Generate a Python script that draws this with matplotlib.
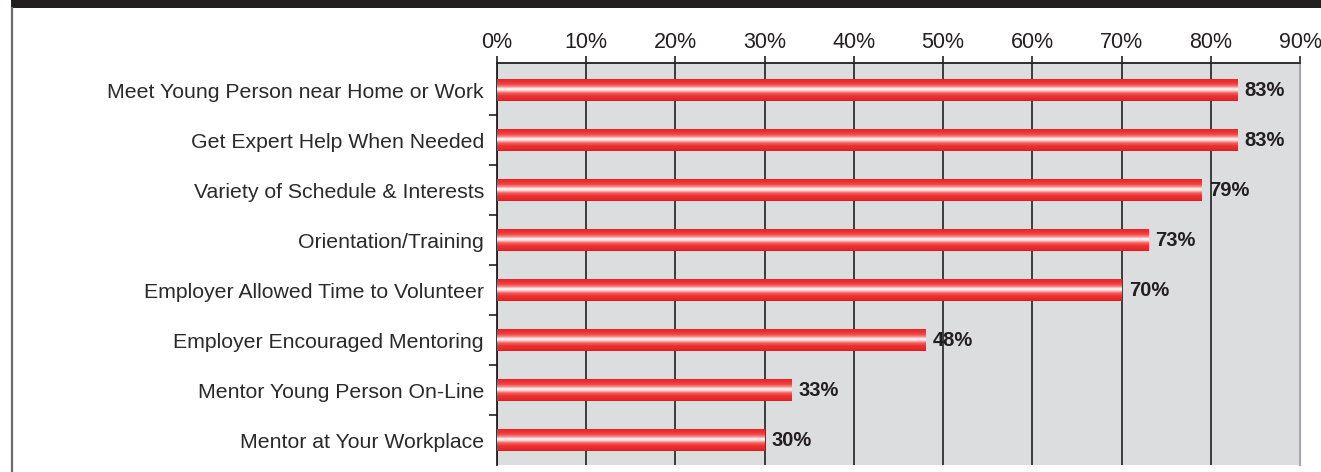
import matplotlib
matplotlib.use("Agg")
import matplotlib.pyplot as plt
import numpy as np
from matplotlib.colors import LinearSegmentedColormap
from matplotlib.patches import Rectangle
from matplotlib.lines import Line2D

plt.rcParams['font.family'] = ['Liberation Sans', 'DejaVu Sans']

categories = [
    "Meet Young Person near Home or Work",
    "Get Expert Help When Needed",
    "Variety of Schedule & Interests",
    "Orientation/Training",
    "Employer Allowed Time to Volunteer",
    "Employer Encouraged Mentoring",
    "Mentor Young Person On-Line",
    "Mentor at Your Workplace",
]
values = [83, 83, 79, 73, 70, 48, 33, 30]
value_labels = ["83%", "83%", "79%", "73%", "70%", "48%", "33%", "30%"]
xticks = [0, 10, 20, 30, 40, 50, 60, 70, 80, 90]
xtick_labels = ["0%", "10%", "20%", "30%", "40%", "50%", "60%", "70%", "80%", "90%"]

W, H = 1321, 472
fig = plt.figure(figsize=(W / 100, H / 100), dpi=100)
fig.patch.set_facecolor("white")

# black header band and left frame line
fig.patches.append(Rectangle((11 / W, 1 - 8 / H), 1 - 11 / W, 8 / H,
                             transform=fig.transFigure, facecolor="#231f20",
                             edgecolor="none", zorder=0))
fig.lines.append(Line2D([11.5 / W, 11.5 / W], [0, 1 - 8 / H], transform=fig.transFigure,
                        color="#6a6a6a", lw=1.6))

left, right, top, bottom = 497, 1300, 63, 465
ax = fig.add_axes([left / W, 1 - bottom / H, (right - left) / W, (bottom - top) / H])
ax.set_facecolor("#dcdddf")

ypos = np.arange(len(categories))
bar_h = 0.45
bars = ax.barh(ypos, values, height=bar_h, color="#ee2a2a", edgecolor="none", zorder=3)

# glossy gradient
grad_cmap = LinearSegmentedColormap.from_list("gloss", [
    (0.0, "#e52228"),
    (0.15, "#ef2f30"),
    (0.28, "#f24848"),
    (0.38, "#f69090"),
    (0.47, "#ffffff"),
    (0.55, "#fbd0d0"),
    (0.65, "#f26060"),
    (0.78, "#ee3030"),
    (0.90, "#ea2a2a"),
    (1.0, "#d81f24"),
])
grad = grad_cmap(np.linspace(0, 1, 64))[:, None, :]
for b in bars:
    x0 = b.get_x()
    x1 = x0 + b.get_width()
    y0 = b.get_y()
    y1 = y0 + b.get_height()
    im = ax.imshow(grad, extent=[x0, x1, y1, y0], aspect="auto", origin="upper",
                   zorder=4, interpolation="bilinear")
    im.set_clip_path(b)

for y, v, lab in zip(ypos, values, value_labels):
    ax.text(v + 0.8, y, lab, va="center", ha="left", fontsize=14.5,
            fontweight="bold", color="#231f20", zorder=5)

ax.set_xlim(0, 90)
ax.set_ylim(len(categories) - 0.5, -0.54)

ax.xaxis.tick_top()
ax.set_xticks(xticks)
ax.set_xticklabels(xtick_labels, fontsize=15.5, color="#231f20")
ax.tick_params(axis="x", direction="out", length=5, width=1.2, color="#231f20", pad=2.5)
ax.grid(axis="x", color="#111111", lw=1.1, zorder=1)
ax.set_axisbelow(True)

ax.set_yticks(ypos)
ax.set_yticklabels(categories, fontsize=15.3, color="#2a2a2a")
ax.set_yticks(np.arange(0.5, len(categories) - 0.5, 1), minor=True)
ax.tick_params(axis="y", which="major", length=0, pad=9.4)
ax.tick_params(axis="y", which="minor", direction="out", length=6, width=1.2, color="#231f20")

for s in ["top", "left"]:
    ax.spines[s].set_color("#231f20")
    ax.spines[s].set_linewidth(1.3)
ax.spines["right"].set_color("#a8a8a8")
ax.spines["right"].set_linewidth(1.6)
ax.spines["bottom"].set_visible(False)

fig.savefig("out.png", dpi=100)
